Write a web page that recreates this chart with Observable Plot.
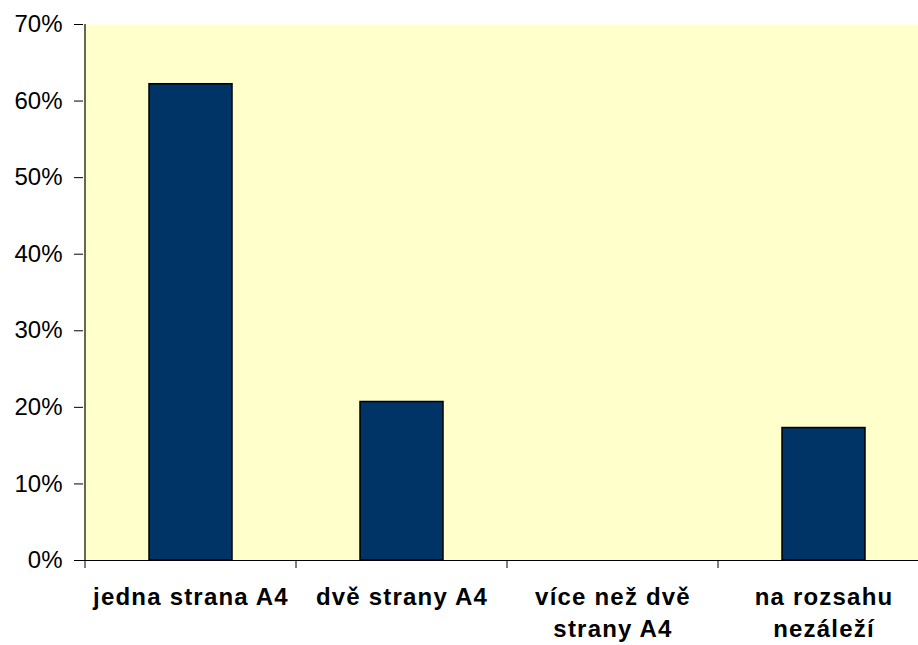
<!DOCTYPE html>
<html>
<head>
<meta charset="utf-8">
<script src="https://cdn.jsdelivr.net/npm/d3@7"></script>
<script src="https://cdn.jsdelivr.net/npm/@observablehq/plot@0.6"></script>
<style>
  html, body { margin: 0; padding: 0; background: #fff; overflow: hidden; }
  #chart svg { overflow: hidden; display: block; }
  #chart g[aria-label="x-axis tick label"] text { letter-spacing: 1.2px; }
</style>
</head>
<body>
<div id="chart"></div>
<script>
const categories = ["jedna strana A4", "dvě strany A4", "více než dvě\nstrany A4", "na rozsahu\nnezáleží"];
const values = [62.2, 20.7, 0, 17.3];
const yTicks = [0, 10, 20, 30, 40, 50, 60, 70];

const data = categories.map((c, i) => ({cat: c, val: values[i]}));
const half = 106;

const chart = Plot.plot({
  width: 918,
  height: 645,
  marginLeft: 83,
  marginRight: -12,
  marginTop: 24,
  marginBottom: 85,
  style: {fontFamily: "'Liberation Sans', Arial, sans-serif", fontSize: "24px", color: "#000", background: "#fff"},
  x: {domain: categories, padding: 0, label: null},
  y: {domain: [0, 70], label: null},
  marks: [
    Plot.frame({fill: "#ffffcc", stroke: "none"}),
    Plot.barY(data, {x: "cat", y: "val", fill: "#003366", stroke: "#000", strokeWidth: 1.5, insetLeft: 64, insetRight: 64}),
    Plot.ruleY([0], {stroke: "#000", strokeWidth: 1.2}),
    Plot.ruleX([categories[0]], {dx: -half, stroke: "#000", strokeWidth: 1.2}),
    Plot.axisY({ticks: yTicks, tickFormat: d => d + "%", tickSize: 9, tickPadding: 12, fontSize: 24, label: null}),
    Plot.axisX({tickSize: 8, text: null, dx: -half, label: null}),
    Plot.axisX({tickSize: 0, tickPadding: 22, fontWeight: "bold", fontSize: 24, lineHeight: 1.33, label: null})
  ]
});
document.getElementById("chart").appendChild(chart);
</script>
</body>
</html>
